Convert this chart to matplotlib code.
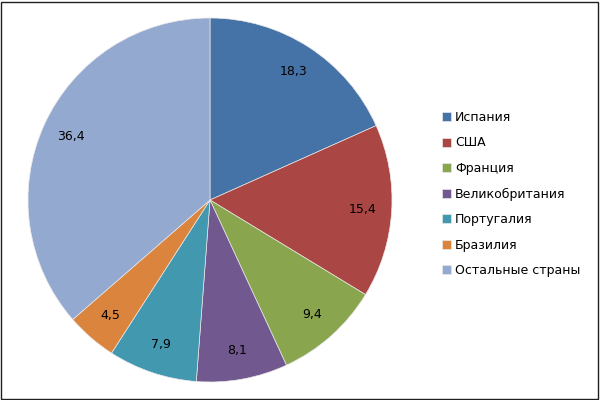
import matplotlib
matplotlib.use("Agg")
import matplotlib.pyplot as plt
from matplotlib.patches import Rectangle

categories = ["Испания", "США", "Франция", "Великобритания", "Португалия", "Бразилия", "Остальные страны"]
values = [18.3, 15.4, 9.4, 8.1, 7.9, 4.5, 36.4]
colors = ["#4572A7", "#AA4643", "#89A54E", "#71588F", "#4198AF", "#DB843D", "#93A9CF"]

plt.rcParams['font.family'] = ['DejaVu Sans']

fig = plt.figure(figsize=(6, 4), dpi=100)
W, H = 600, 400
cx, cy, r = 210, 200, 182
ax = fig.add_axes([(cx - r) / W, (H - cy - r) / H, 2 * r / W, 2 * r / H])

wedges, texts, autotexts = ax.pie(
    values, colors=colors, startangle=90, counterclock=False,
    autopct=lambda p: f"{p:.1f}".replace(".", ","), pctdistance=0.84,
    wedgeprops=dict(edgecolor="#e8e8e8", linewidth=0.5),
    textprops=dict(fontsize=9, color="black"))
ax.set_xlim(-1, 1)
ax.set_ylim(-1, 1)
ax.set_aspect("equal")

leg = fig.legend(wedges, categories, loc="upper left",
                 bbox_to_anchor=(437 / W, 1 - 106 / H), frameon=False,
                 fontsize=9, handlelength=0.7, handleheight=0.7,
                 handletextpad=0.35, labelspacing=1.0, borderaxespad=0)

fig.patches.append(Rectangle((0.002, 0.003), 0.995, 0.993, transform=fig.transFigure,
                             fill=False, edgecolor="#202020", linewidth=1))
fig.savefig("out.png", dpi=100)
